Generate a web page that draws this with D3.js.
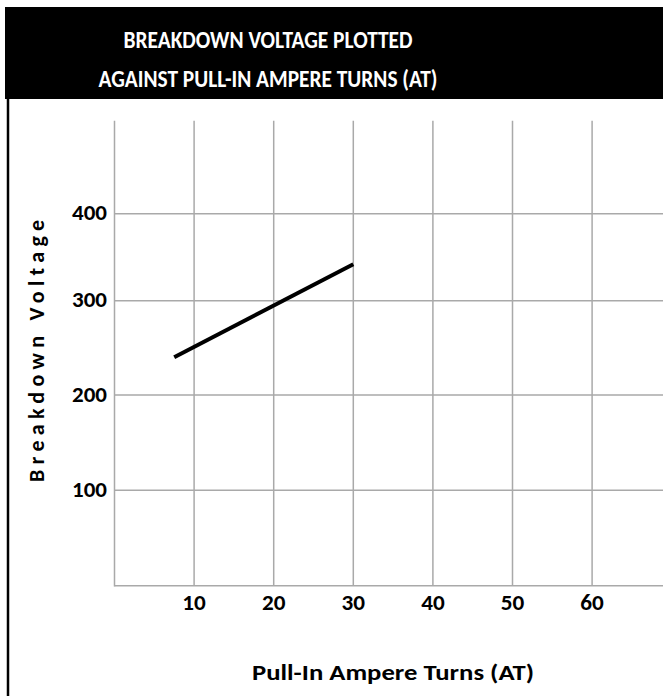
<!DOCTYPE html>
<html>
<head>
<meta charset="utf-8">
<script src="https://cdn.jsdelivr.net/npm/d3@7"></script>
<style>
  html, body { margin: 0; padding: 0; background: #fff; }
  svg { display: block; }
  text { font-family: Carlito, Lato, "Open Sans", sans-serif; font-weight: bold; }
</style>
</head>
<body>
<svg id="chart" width="663" height="696"></svg>
<script>
// ---- data ----
const titleLines = ["BREAKDOWN VOLTAGE PLOTTED", "AGAINST PULL-IN AMPERE TURNS (AT)"];
const xTicks = [10, 20, 30, 40, 50, 60];
const yTicks = [100, 200, 300, 400];
const xLabel = "Pull-In Ampere Turns (AT)";
const yLabel = "Breakdown Voltage";
const seriesX = [7.5, 30];
const seriesY = [240, 342];

// ---- drawing ----
const svg = d3.select("#chart");
const W = 663, H = 696;

const x = d3.scaleLinear().domain([0, 70]).range([114.5, 114.5 + 79.6 * 7]);
// the reference grid spacing is slightly uneven; follow it with a polylinear scale
const y = d3.scaleLinear().domain([0, 100, 200, 300, 400, 507])
  .range([585.7, 490.3, 395, 300.7, 213.7, 120.7]);

const gridColor = "#a9a9a9";

// title bar
svg.append("rect").attr("x", 5).attr("y", 7).attr("width", W - 5).attr("height", 92).attr("fill", "#000");
// left border
svg.append("line").attr("x1", 8).attr("x2", 8).attr("y1", 7).attr("y2", H)
  .attr("stroke", "#000").attr("stroke-width", 2.5);

const titleY = [48, 87];
const titleW = [289, 339];
titleLines.forEach((t, i) => {
  svg.append("text").attr("x", 268).attr("y", titleY[i])
    .attr("text-anchor", "middle").attr("fill", "#fff")
    .attr("font-size", 24.5)
    .attr("textLength", titleW[i]).attr("lengthAdjust", "spacingAndGlyphs")
    .text(t);
});

// vertical grid
svg.append("g").selectAll("line").data(xTicks).join("line")
  .attr("x1", d => x(d)).attr("x2", d => x(d))
  .attr("y1", y(0)).attr("y2", y(507))
  .attr("stroke", gridColor).attr("stroke-width", 1.5);
// horizontal grid
svg.append("g").selectAll("line").data(yTicks).join("line")
  .attr("x1", x(0)).attr("x2", W)
  .attr("y1", d => y(d)).attr("y2", d => y(d))
  .attr("stroke", gridColor).attr("stroke-width", 1.5);
// axes lines
svg.append("line").attr("x1", x(0)).attr("x2", x(0)).attr("y1", y(0) + 0.75).attr("y2", y(507))
  .attr("stroke", gridColor).attr("stroke-width", 1.5);
svg.append("line").attr("x1", x(0)).attr("x2", W).attr("y1", y(0)).attr("y2", y(0))
  .attr("stroke", gridColor).attr("stroke-width", 1.5);

// tick labels
svg.append("g").selectAll("text").data(yTicks).join("text")
  .attr("x", 107).attr("y", d => y(d) + 6.5)
  .attr("text-anchor", "end").attr("font-size", 21.5).attr("fill", "#000")
  .attr("textLength", 35).attr("lengthAdjust", "spacingAndGlyphs")
  .text(d => d);
svg.append("g").selectAll("text").data(xTicks).join("text")
  .attr("x", d => x(d)).attr("y", 610)
  .attr("text-anchor", "middle").attr("font-size", 21.5).attr("fill", "#000")
  .attr("textLength", 23.5).attr("lengthAdjust", "spacingAndGlyphs")
  .text(d => d);

// axis titles
svg.append("text").attr("x", 393).attr("y", 680)
  .attr("text-anchor", "middle").attr("font-size", 22.5).attr("fill", "#000")
  .attr("textLength", 282).attr("lengthAdjust", "spacingAndGlyphs")
  .text(xLabel);
svg.append("text").attr("transform", "translate(43.5,351) rotate(-90)")
  .attr("text-anchor", "middle").attr("font-size", 22).attr("fill", "#000")
  .attr("textLength", 262).attr("lengthAdjust", "spacing")
  .text(yLabel);

// series line
const line = d3.line().x(d => x(d[0])).y(d => y(d[1]));
svg.append("path").datum(seriesX.map((v, i) => [v, seriesY[i]]))
  .attr("d", line).attr("fill", "none").attr("stroke", "#000").attr("stroke-width", 4);
</script>
</body>
</html>
